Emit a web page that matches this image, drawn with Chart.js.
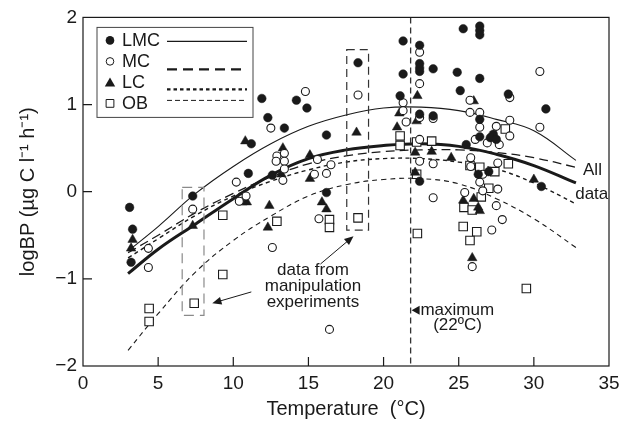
<!DOCTYPE html>
<html>
<head>
<meta charset="utf-8">
<script src="https://cdn.jsdelivr.net/npm/chart.js@4.4.1/dist/chart.umd.min.js"></script>
<style>
    html, body { margin: 0; padding: 0; background: #fff; }
    #wrap { width: 632px; height: 435px; }
</style>
</head>
<body>
<div id="wrap"><canvas id="bpChart" width="632" height="435"></canvas></div>
<script>
/**
 * logBP vs temperature scatter with fitted curves
 */

// LMC - filled circles
const lmcTemp = [3.1, 3.3, 3.2, 7.3, 11.0, 11.2, 11.9, 12.3, 12.6, 13.4, 14.2, 14.9, 16.2, 16.2, 18.3,
    21.3, 21.3, 21.1, 22.4, 22.4, 22.4, 22.4, 23.3, 24.9, 25.1, 22.4, 23.3, 22.4, 25.3, 26.4, 26.4, 26.4,
    26.4, 28.3, 30.8, 26.4, 27.3, 27.1, 26.4, 27.5, 25.5, 26.3, 27.0, 30.5];
const lmcBP = [-0.18, -0.43, -0.81, -0.05, 0.21, 0.55, 1.07, 0.85, 0.19, 0.73, 1.05, 0.96, 0.65, -0.01, 1.48,
    1.73, 1.35, 1.10, 1.68, 1.47, 1.42, 1.38, 1.41, 1.37, 1.16, 0.89, 0.87, 0.12, 1.87, 1.90, 1.85, 1.80,
    1.30, 1.12, 0.95, 0.83, 0.66, 0.62, 0.63, 0.60, 0.54, 0.20, 0.23, 0.06];

// MC - open circles
const mcTemp = [4.35, 4.35, 7.3, 10.2, 10.4, 10.85, 12.5, 12.6, 12.9, 13.4, 12.85, 13.4, 13.4, 13.3, 14.8,
    15.6, 16.5, 15.4, 16.2, 15.7, 16.4, 18.3, 21.3, 21.3, 21.5, 22.4, 22.4, 22.4, 23.3, 22.4, 22.4, 23.3,
    23.3, 25.75, 28.4, 30.4, 25.75, 26.4, 26.4, 27.5, 28.4, 30.4, 28.4, 26.1, 26.9, 27.7, 25.8, 25.8, 26.6,
    27.6, 26.4, 27.6, 25.4, 26.6, 27.5, 27.9, 27.2, 25.9];
const mcBP = [-0.65, -0.87, -0.20, 0.11, -0.11, -0.05, 0.73, -0.64, 0.41, 0.44, 0.35, 0.35, 0.26, 0.13, 1.15,
    0.37, 0.31, 0.20, 0.21, -0.31, -1.58, 1.11, 1.02, 0.93, 0.80, 1.60, 1.24, 0.85, 0.84, 0.60, 0.35, 0.32,
    -0.07, 1.05, 1.08, 1.38, 0.91, 0.91, 0.74, 0.75, 0.82, 0.74, 0.64, 0.60, 0.56, 0.54, 0.39, 0.29, 0.20,
    0.33, 0.11, 0.03, -0.01, 0.01, -0.16, -0.32, -0.44, -0.86];

// LC - filled triangles
const lcTemp = [3.3, 3.2, 7.3, 10.6, 10.9, 10.8, 12.4, 12.3, 13.3, 13.2, 15.1, 15.1, 15.9, 16.2, 18.2,
    20.9, 21.05, 22.25, 22.2, 22.1, 23.2, 24.5, 22.1, 26.0, 25.3, 26.0, 26.3, 26.4, 25.9, 30.0];
const lcBP = [-0.55, -0.65, -0.39, -0.12, -0.12, 0.58, -0.16, -0.41, 0.50, 0.20, 0.42, 0.15, -0.12, -0.20, 0.68,
    0.74, 0.90, 1.10, 0.81, 0.45, 0.46, 0.39, 0.22, 1.04, -0.10, -0.08, -0.18, -0.22, -0.76, 0.14];

// OB - open squares
const obTemp = [4.4, 4.4, 7.4, 9.3, 9.3, 12.9, 16.4, 16.4, 18.3, 21.1, 21.1, 22.2, 23.2, 22.2, 22.25,
    28.1, 25.75, 26.4, 27.4, 28.3, 27.0, 26.5, 25.35, 25.9, 25.3, 26.2, 25.75, 29.5];
const obBP = [-1.34, -1.49, -1.28, -0.27, -0.95, -0.34, -0.32, -0.41, -0.30, 0.64, 0.53, 0.57, 0.58, 0.20, -0.48,
    0.72, 0.30, 0.28, 0.23, 0.32, 0.04, -0.06, -0.18, -0.21, -0.40, -0.46, -0.56, -1.11];

// fitted curves at these temperatures
const curveTemp = [3, 5, 7.5, 10, 12.5, 15, 17.5, 20, 22.5, 25, 27.5, 30, 32.8];
const fitLMC = [-0.68, -0.40, -0.02, 0.29, 0.55, 0.75, 0.88, 0.96, 0.97, 0.93, 0.83, 0.70, 0.36];
const fitMC  = [-0.70, -0.50, -0.24, -0.02, 0.17, 0.32, 0.41, 0.46, 0.48, 0.48, 0.45, 0.39, 0.28];
const fitLC  = [-0.76, -0.54, -0.27, -0.05, 0.12, 0.25, 0.34, 0.38, 0.38, 0.34, 0.26, 0.10, -0.14];
const fitOB  = [-1.82, -1.40, -0.92, -0.56, -0.28, -0.05, 0.08, 0.14, 0.15, 0.09, -0.08, -0.31, -0.64];
const fitAll = [-0.94, -0.66, -0.37, -0.08, 0.19, 0.38, 0.48, 0.53, 0.55, 0.52, 0.43, 0.30, 0.10];

const xTicks = [0, 5, 10, 15, 20, 25, 30, 35];
const yTicks = [-2, -1, 0, 1, 2];
const maxTemp = 21.8;

const FONT = '"Liberation Sans", Arial, Helvetica, sans-serif';
const INK = '#1a1a1a';

// dashed boxes around the manipulation data (temperature / logBP corners)
const manipBoxes = [
    { x0: 6.6, x1: 8.05, y0: 0.05, y1: -1.42, color: '#8a8a8a', dash: [10, 6] },
    { x0: 17.55, x1: 19.0, y0: 1.63, y1: -0.44, color: '#333', dash: [8, 5] }
];

function toPoints(xs, ys) {
    return xs.map((v, i) => ({ x: v, y: ys[i] }));
}

function markerPath(ctx, style, x, y, r) {
    ctx.beginPath();
    if (style === 'circle') {
        ctx.arc(x, y, r, 0, Math.PI * 2);
    } else if (style === 'triangle') {
        ctx.moveTo(x, y - r);
        ctx.lineTo(x + r * 0.866, y + r * 0.5);
        ctx.lineTo(x - r * 0.866, y + r * 0.5);
        ctx.closePath();
    } else {
        ctx.rect(x - r * 0.707, y - r * 0.707, r * 1.414, r * 1.414);
    }
}

function arrow(ctx, x0, y0, x1, y1) {
    const ang = Math.atan2(y1 - y0, x1 - x0);
    ctx.beginPath();
    ctx.moveTo(x0, y0);
    ctx.lineTo(x1 - Math.cos(ang) * 6, y1 - Math.sin(ang) * 6);
    ctx.stroke();
    ctx.beginPath();
    ctx.moveTo(x1, y1);
    ctx.lineTo(x1 - Math.cos(ang - 0.4) * 10, y1 - Math.sin(ang - 0.4) * 10);
    ctx.lineTo(x1 - Math.cos(ang + 0.4) * 10, y1 - Math.sin(ang + 0.4) * 10);
    ctx.closePath();
    ctx.fill();
}

const figureExtras = {
    id: 'figureExtras',
    beforeDraw(chart) {
        const ctx = chart.ctx;
        ctx.save();
        ctx.fillStyle = '#fff';
        ctx.fillRect(0, 0, chart.width, chart.height);
        ctx.restore();
    },
    afterDatasetsDraw(chart) {
        const { ctx, chartArea: ca, scales } = chart;
        const px = v => scales.x.getPixelForValue(v);
        const py = v => scales.y.getPixelForValue(v);
        ctx.save();
        ctx.strokeStyle = INK;
        ctx.fillStyle = INK;

        // vertical line at the maximum
        ctx.lineWidth = 1.3;
        ctx.setLineDash([6, 4]);
        ctx.strokeStyle = '#333';
        ctx.beginPath();
        ctx.moveTo(px(maxTemp), ca.top);
        ctx.lineTo(px(maxTemp), ca.bottom);
        ctx.stroke();

        // manipulation boxes
        manipBoxes.forEach(b => {
            ctx.strokeStyle = b.color;
            ctx.setLineDash(b.dash);
            ctx.lineWidth = 1.2;
            ctx.strokeRect(px(b.x0), py(b.y0), px(b.x1) - px(b.x0), py(b.y1) - py(b.y0));
        });
        ctx.setLineDash([]);
        ctx.strokeStyle = INK;

        // frame and inward ticks
        ctx.lineWidth = 1.2;
        ctx.strokeRect(ca.left, ca.top, ca.right - ca.left, ca.bottom - ca.top);
        ctx.beginPath();
        xTicks.slice(1, -1).forEach(t => {
            ctx.moveTo(px(t), ca.bottom);
            ctx.lineTo(px(t), ca.bottom - 9);
        });
        yTicks.slice(1, -1).forEach(t => {
            ctx.moveTo(ca.left, py(t));
            ctx.lineTo(ca.left + 9, py(t));
        });
        ctx.stroke();

        // annotations
        ctx.font = '17px ' + FONT;
        ctx.textAlign = 'center';
        ctx.textBaseline = 'middle';
        ctx.fillText('data from', px(15.3), py(-0.9));
        ctx.fillText('manipulation', px(15.3), py(-1.09));
        ctx.fillText('experiments', px(15.3), py(-1.27));
        ctx.lineWidth = 1;
        arrow(ctx, px(11.2), py(-1.15), px(8.6), py(-1.28));
        arrow(ctx, px(15.8), py(-0.83), px(18.0), py(-0.51));

        ctx.textAlign = 'left';
        ctx.fillText('maximum', px(22.45), py(-1.36));
        ctx.fillText('(22ºC)', px(23.3), py(-1.53));
        ctx.beginPath();
        ctx.moveTo(px(maxTemp) + 1, py(-1.36));
        ctx.lineTo(px(maxTemp) + 9, py(-1.36) - 4.5);
        ctx.lineTo(px(maxTemp) + 9, py(-1.36) + 4.5);
        ctx.closePath();
        ctx.fill();

        ctx.textAlign = 'center';
        ctx.fillText('All', px(33.9), py(0.24));
        ctx.fillText('data', px(33.85), py(-0.03));

        // legend
        const lx = ca.left + 14, ly = ca.top + 10;
        ctx.lineWidth = 1;
        ctx.strokeStyle = '#444';
        ctx.strokeRect(lx, ly, 156, 90);
        const rows = [
            { label: 'LMC', style: 'circle', fill: true, r: 4.3, ty: 23, lineY: 24, dash: [], w: 1.3 },
            { label: 'MC', style: 'circle', fill: false, r: 3.8, ty: 44, lineY: 52, dash: [10, 6], w: 2.2 },
            { label: 'LC', style: 'triangle', fill: true, r: 6, ty: 65, lineY: 72, dash: [3.5, 3], w: 2.2 },
            { label: 'OB', style: 'rect', fill: false, r: 5.5, ty: 86, lineY: 83, dash: [5, 3], w: 1 }
        ];
        ctx.font = '18px ' + FONT;
        ctx.textAlign = 'left';
        rows.forEach(row => {
            const my = ca.top + row.ty;
            ctx.setLineDash([]);
            ctx.lineWidth = 1;
            ctx.strokeStyle = INK;
            markerPath(ctx, row.style, ca.left + 27, my + (row.style === 'triangle' ? 1 : 0), row.r);
            if (row.fill) {
                ctx.fill();
            } else {
                ctx.fillStyle = '#fff';
                ctx.fill();
                ctx.fillStyle = INK;
                ctx.stroke();
            }
            ctx.fillText(row.label, ca.left + 39, my + 1);
            ctx.setLineDash(row.dash);
            ctx.lineWidth = row.w;
            ctx.beginPath();
            ctx.moveTo(ca.left + 84, ca.top + row.lineY);
            ctx.lineTo(ca.left + 164, ca.top + row.lineY);
            ctx.stroke();
        });
        ctx.restore();
    }
};

function curveDataset(label, values, dash, width, order) {
    return {
        type: 'line',
        label: label,
        data: toPoints(curveTemp, values),
        borderColor: INK,
        borderWidth: width,
        borderDash: dash,
        pointRadius: 0,
        fill: false,
        tension: 0.4,
        order: order
    };
}

function scatterDataset(label, xs, ys, style, filled, radius, order) {
    return {
        label: label,
        data: toPoints(xs, ys),
        pointStyle: style,
        pointRadius: radius,
        pointHoverRadius: radius,
        pointBackgroundColor: filled ? INK : '#fff',
        pointBorderColor: INK,
        pointBorderWidth: filled ? 0.5 : 1.1,
        showLine: false,
        order: order
    };
}

document.addEventListener('DOMContentLoaded', function() {
    const ctx = document.getElementById('bpChart').getContext('2d');

    new Chart(ctx, {
        type: 'scatter',
        data: {
            datasets: [
                curveDataset('OB fit', fitOB, [5, 4], 1.1, 20),
                curveDataset('LC fit', fitLC, [4, 3.5], 1.4, 19),
                curveDataset('MC fit', fitMC, [9, 5], 1.3, 18),
                curveDataset('LMC fit', fitLMC, [], 1.1, 17),
                curveDataset('All data', fitAll, [], 3, 16),
                scatterDataset('OB', obTemp, obBP, 'rect', false, 6, 4),
                scatterDataset('LC', lcTemp, lcBP, 'triangle', true, 5.5, 3),
                scatterDataset('MC', mcTemp, mcBP, 'circle', false, 4, 2),
                scatterDataset('LMC', lmcTemp, lmcBP, 'circle', true, 4.3, 1)
            ]
        },
        options: {
            responsive: false,
            animation: false,
            devicePixelRatio: 1,
            layout: { padding: { top: 16, right: 23, left: 0, bottom: 0 } },
            plugins: {
                legend: { display: false },
                tooltip: { enabled: false }
            },
            scales: {
                x: {
                    type: 'linear',
                    min: 0,
                    max: 35,
                    afterFit: scale => { scale.height = 69; },
                    grid: { display: false, drawTicks: false },
                    border: { display: false },
                    ticks: {
                        stepSize: 5,
                        padding: 6,
                        color: INK,
                        font: { family: FONT, size: 19 }
                    },
                    title: {
                        display: true,
                        text: 'Temperature  (°C)',
                        color: INK,
                        font: { family: FONT, size: 20 },
                        padding: { top: 0, bottom: 14 }
                    }
                },
                y: {
                    type: 'linear',
                    min: -2,
                    max: 2,
                    afterFit: scale => { scale.width = 83; },
                    grid: { display: false, drawTicks: false },
                    border: { display: false },
                    ticks: {
                        stepSize: 1,
                        padding: 6,
                        color: INK,
                        font: { family: FONT, size: 19 },
                        callback: v => (v < 0 ? '\u2212' + Math.abs(v) : String(v))
                    },
                    title: {
                        display: true,
                        text: 'logBP (\u00b5g C l\u207b\u00b9 h\u207b\u00b9)',
                        color: INK,
                        font: { family: FONT, size: 20 },
                        padding: { top: 16, bottom: 0 }
                    }
                }
            }
        },
        plugins: [figureExtras]
    });
});
</script>
</body>
</html>
